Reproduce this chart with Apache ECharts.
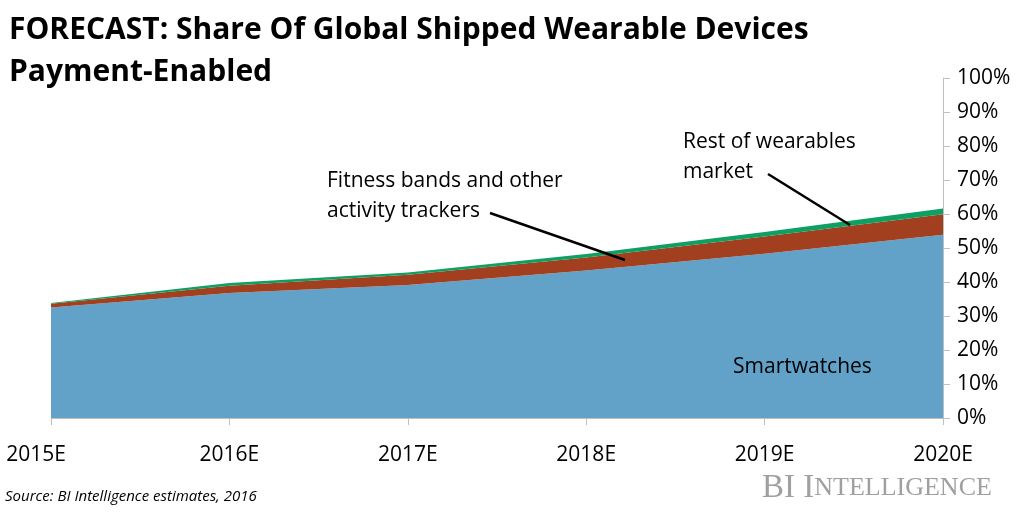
<!DOCTYPE html>
<html>
<head>
<meta charset="utf-8">
<script src="https://cdn.jsdelivr.net/npm/echarts@6/dist/echarts.min.js"></script>
<style>html,body{margin:0;padding:0;background:#fff}#c{width:1024px;height:512px}</style>
</head>
<body>
<div id="c"></div>
<script>
const categories = ['2015E', '2016E', '2017E', '2018E', '2019E', '2020E'];
const smartwatches = [32.5, 36.8, 39.1, 43.4, 48.3, 53.9];
const fitnessBands = [1.1, 2.1, 3.0, 3.8, 5.1, 6.0];
const restOfMarket = [0.2, 0.8, 0.7, 1.0, 1.3, 1.7];
const yTicks = [0, 10, 20, 30, 40, 50, 60, 70, 80, 90, 100];

const FONT = '"Open Sans", sans-serif';
const chart = echarts.init(document.getElementById('c'));
chart.setOption({
  animation: false,
  backgroundColor: '#fff',
  grid: { left: 51, right: 81, top: 78, bottom: 94, containLabel: false },
  title: {
    text: 'FORECAST: Share Of Global Shipped Wearable Devices\nPayment-Enabled',
    left: 4, top: 4,
    textStyle: { fontFamily: FONT, fontWeight: 'bold', fontSize: 30, lineHeight: 42, color: '#000' }
  },
  xAxis: {
    type: 'category', data: categories, boundaryGap: false,
    axisLine: { show: true, lineStyle: { color: '#BFBFBF', width: 1 } },
    axisTick: { show: true, length: 7, lineStyle: { color: '#BFBFBF' } },
    axisLabel: {
      fontFamily: FONT, fontSize: 21, color: '#000', margin: 27,
      formatter: (v, i) => i === 0 ? '{first|' + v + '}' : v,
      rich: { first: { fontFamily: FONT, fontSize: 21, color: '#000', padding: [0, 30, 0, 0] } }
    },
    splitLine: { show: false }
  },
  yAxis: {
    type: 'value', position: 'right', min: yTicks[0], max: yTicks[yTicks.length - 1], interval: 10,
    axisLine: { show: true, lineStyle: { color: '#BFBFBF', width: 1 } },
    axisTick: { show: true, length: 7, lineStyle: { color: '#BFBFBF' } },
    axisLabel: { fontFamily: FONT, fontSize: 21, color: '#000', margin: 14, formatter: '{value}%' },
    splitLine: { show: false }
  },
  series: [
    { name: 'Smartwatches', type: 'line', stack: 'all', data: smartwatches, symbol: 'none',
      lineStyle: { width: 0 }, areaStyle: { color: '#62A2C8', opacity: 1 }, itemStyle: { color: '#62A2C8' } },
    { name: 'Fitness bands and other activity trackers', type: 'line', stack: 'all', data: fitnessBands, symbol: 'none',
      lineStyle: { width: 0 }, areaStyle: { color: '#A23F1F', opacity: 1 }, itemStyle: { color: '#A23F1F' } },
    { name: 'Rest of wearables market', type: 'line', stack: 'all', data: restOfMarket, symbol: 'none',
      lineStyle: { width: 0 }, areaStyle: { color: '#0E9F62', opacity: 1 }, itemStyle: { color: '#0E9F62' } }
  ],
  graphic: [
    { type: 'text', z: 100, left: 733, top: 357, style: { text: 'Smartwatches', font: '21px "Open Sans", sans-serif', fill: '#000' } },
    { type: 'text', z: 100, left: 327, top: 166, style: { text: 'Fitness bands and other\nactivity trackers', font: '21px "Open Sans", sans-serif', lineHeight: 30, fill: '#000' } },
    { type: 'text', z: 100, left: 683, top: 127, style: { text: 'Rest of wearables\nmarket', font: '21px "Open Sans", sans-serif', lineHeight: 30, fill: '#000' } },
    { type: 'line', z: 100, shape: { x1: 490, y1: 213, x2: 625, y2: 260 }, style: { stroke: '#000', lineWidth: 2.5 } },
    { type: 'line', z: 100, shape: { x1: 768, y1: 174, x2: 850, y2: 225 }, style: { stroke: '#000', lineWidth: 2.5 } },
    { type: 'text', z: 100, left: 5, top: 489, style: { text: 'Source: BI Intelligence estimates, 2016', font: 'italic 15px "Open Sans", sans-serif', fill: '#000' } },
    { type: 'text', z: 100, left: 762, top: 472, style: {
        text: '{a|BI I}{b|NTELLIGENCE}',
        rich: {
          a: { fontFamily: '"Liberation Serif", serif', fontSize: 33, fill: '#A0A0A0', color: '#A0A0A0' },
          b: { fontFamily: '"Liberation Serif", serif', fontSize: 26, fill: '#A0A0A0', color: '#A0A0A0' }
        } } }
  ]
});
</script>
</body>
</html>
